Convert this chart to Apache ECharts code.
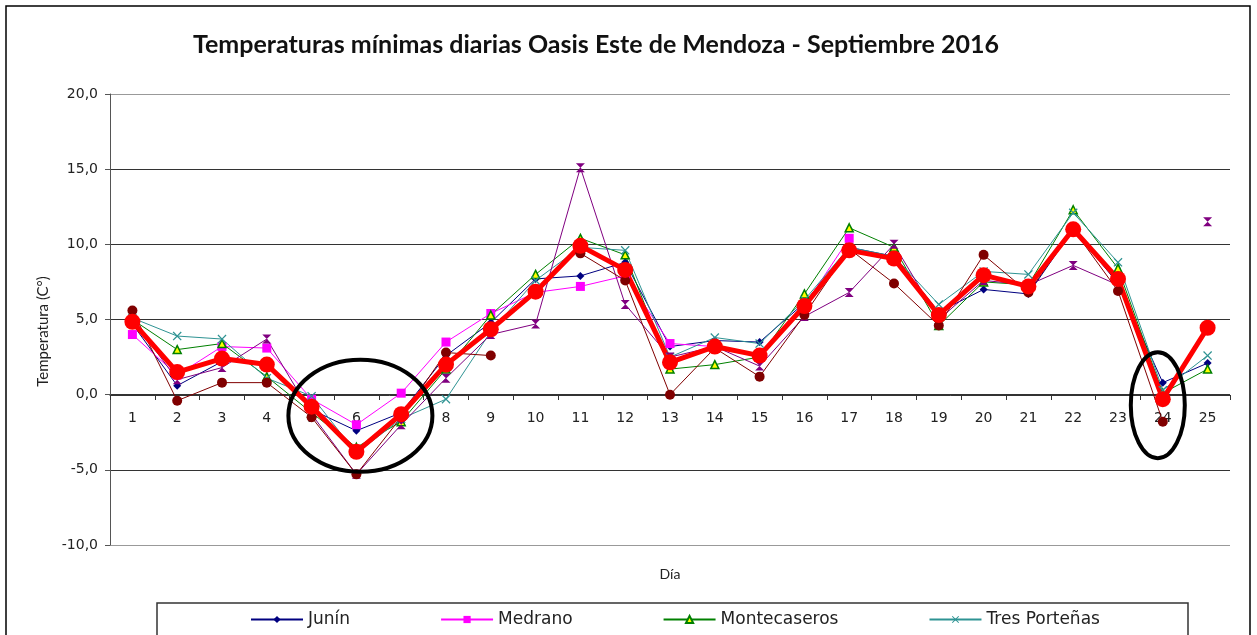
<!DOCTYPE html>
<html>
<head>
<meta charset="utf-8">
<script src="https://cdn.jsdelivr.net/npm/echarts@6/dist/echarts.min.js"></script>
<style>
  html, body { margin: 0; padding: 0; background: #fff; }
  #chart { width: 1257px; height: 635px; }
</style>
</head>
<body>
<div id="chart"></div>
<script>
// dias del mes
var dias = ['1','2','3','4','5','6','7','8','9','10','11','12','13','14','15','16','17','18','19','20','21','22','23','24','25'];

var junin = [4.7, 0.6, 2.2, 2.2, -1.0, -2.4, -1.2, 2.6, 4.8, 7.7, 7.9, 8.8, 3.2, 3.6, 3.5, 6.1, 9.8, 9.2, 5.5, 7.0, 6.7, 11.0, 7.4, 0.8, 2.1];
var medrano = [4.0, 1.3, 3.2, 3.1, -0.3, -2.0, 0.1, 3.5, 5.4, 6.8, 7.2, 7.9, 3.4, 3.2, 2.6, 5.9, 10.4, null, null, null, null, null, null, null, null];
var montecaseros = [5.0, 3.0, 3.4, 1.2, -1.2, -3.5, -1.8, 1.7, 5.3, 8.0, 10.4, 9.3, 1.7, 2.0, 2.5, 6.7, 11.1, 9.8, 4.6, 7.5, 7.3, 12.3, 8.4, 0.1, 1.7];
var tresPortenas = [5.1, 3.9, 3.7, 1.1, -0.1, -3.9, -1.6, -0.3, 4.2, 7.6, 9.8, 9.6, 2.5, 3.8, 3.4, 6.3, 9.8, 9.2, 6.0, 8.2, 8.0, 12.1, 8.8, 0.3, 2.6];
var estacion5 = [5.0, 1.0, 1.8, 3.7, -1.3, -5.3, -2.0, 1.1, 4.0, 4.7, 15.1, 6.0, 2.5, 3.2, 1.9, 5.2, 6.8, 10.0, 5.0, 7.6, 7.3, 8.6, 7.3, null, 11.5];
var estacion6 = [5.6, -0.4, 0.8, 0.8, -1.5, -5.3, -1.5, 2.8, 2.6, null, 9.4, 7.6, 0.0, 3.1, 1.2, 5.3, 9.7, 7.4, 4.6, 9.3, 6.8, 11.0, 6.9, -1.8, null];
var promedio = [4.85, 1.5, 2.4, 2.0, -0.8, -3.8, -1.3, 2.0, 4.35, 6.85, 9.9, 8.3, 2.15, 3.2, 2.6, 5.9, 9.6, 9.05, 5.3, 7.95, 7.2, 11.0, 7.7, -0.3, 4.45];

// zonas marcadas con elipses: [dia, temperatura]
var marcas = [['6', -1.4], ['24', -0.7]];

var reloj = 'path://M0,0L10,0L5,5L10,10L0,10L5,5Z';
var cruz = 'path://M1,0L5,4L9,0L10,1L6,5L10,9L9,10L5,6L1,10L0,9L4,5L0,1Z';

function serie(nombre, datos, color, simbolo, tam, relleno, ancho) {
    return {
        name: nombre,
        type: 'line',
        data: datos,
        symbol: simbolo,
        symbolSize: tam,
        showAllSymbol: true,
        connectNulls: false,
        lineStyle: { color: color, width: ancho || 1 },
        itemStyle: {
            color: relleno || color,
            borderColor: color,
            borderWidth: relleno ? 1.5 : 0
        },
        emphasis: { disabled: true }
    };
}

var chart = echarts.init(document.getElementById('chart'));
chart.setOption({
    animation: false,
    backgroundColor: '#fff',
    title: {
        text: 'Temperaturas mínimas diarias Oasis Este de Mendoza - Septiembre 2016',
        left: 188,
        top: 27,
        textStyle: { fontFamily: 'Lato', fontWeight: 'bold', fontSize: 25, color: '#111' }
    },
    grid: { left: 110, right: 27, top: 94, bottom: 90, outerBoundsMode: 'none', containLabel: false },
    legend: {
        data: ['Junín', 'Medrano', 'Montecaseros', 'Tres Porteñas'],
        left: 245,
        top: 606,
        itemWidth: 52,
        itemHeight: 9,
        itemGap: 90,
        textStyle: { fontFamily: 'DejaVu Sans', fontSize: 17, color: '#222' }
    },
    xAxis: {
        type: 'category',
        data: dias,
        boundaryGap: true,
        offset: -150,
        name: 'Día',
        nameLocation: 'middle',
        nameGap: 172,
        nameTextStyle: { fontFamily: 'Lato', fontSize: 14, color: '#222' },
        axisLine: { onZero: false, lineStyle: { color: '#333', width: 1 } },
        axisTick: { show: true, length: 5, lineStyle: { color: '#333' } },
        axisLabel: { margin: 16, fontFamily: 'DejaVu Sans', fontSize: 14, color: '#222' }
    },
    yAxis: {
        type: 'value',
        min: -10,
        max: 20,
        interval: 5,
        name: 'Temperatura (C°)',
        nameLocation: 'middle',
        nameGap: 55,
        nameTextStyle: { fontFamily: 'Lato', fontSize: 15, color: '#222', padding: [0, 24, 0, 0] },
        axisLine: { show: true, lineStyle: { color: '#555', width: 1 } },
        axisTick: { show: true, length: 5, lineStyle: { color: '#555' } },
        axisLabel: {
            margin: 12,
            fontFamily: 'DejaVu Sans',
            fontSize: 14,
            color: '#222',
            formatter: function (v) { return v.toFixed(1).replace('.', ','); }
        },
        splitLine: { show: true, lineStyle: { color: ['#999', '#333', '#333', '#333', '#333', '#333', '#999'], width: 1 } }
    },
    series: [
        serie('Junín', junin, '#000080', 'diamond', 8),
        serie('Medrano', medrano, '#FF00FF', 'rect', 9),
        serie('Montecaseros', montecaseros, '#008000', 'triangle', 8, '#FFFF00'),
        serie('Tres Porteñas', tresPortenas, '#2E9393', cruz, 9),
        serie('Estación 5', estacion5, '#800080', reloj, 9),
        serie('Estación 6', estacion6, '#800000', 'circle', 10),
        serie('Promedio', promedio, '#FF0000', 'circle', 16, null, 5)
    ]
});

// marco, recuadro de leyenda y elipses de resaltado
var p1 = chart.convertToPixel({ xAxisIndex: 0, yAxisIndex: 0 }, marcas[0]);
var p2 = chart.convertToPixel({ xAxisIndex: 0, yAxisIndex: 0 }, marcas[1]);
chart.setOption({
    graphic: [
        { type: 'rect', shape: { x: 6, y: 6, width: 1244, height: 640 }, style: { fill: 'none', stroke: '#000', lineWidth: 1.5 }, silent: true },
        { type: 'rect', shape: { x: 157, y: 603, width: 1031, height: 40 }, style: { fill: 'none', stroke: '#333', lineWidth: 1.5 }, silent: true },
        { type: 'ellipse', shape: { cx: p1[0] + 4, cy: p1[1], rx: 72, ry: 56 }, style: { fill: 'none', stroke: '#000', lineWidth: 4 }, z: 100, silent: true },
        { type: 'ellipse', shape: { cx: p2[0] - 5, cy: p2[1], rx: 27, ry: 53 }, style: { fill: 'none', stroke: '#000', lineWidth: 4 }, z: 100, silent: true }
    ]
});
</script>
</body>
</html>
